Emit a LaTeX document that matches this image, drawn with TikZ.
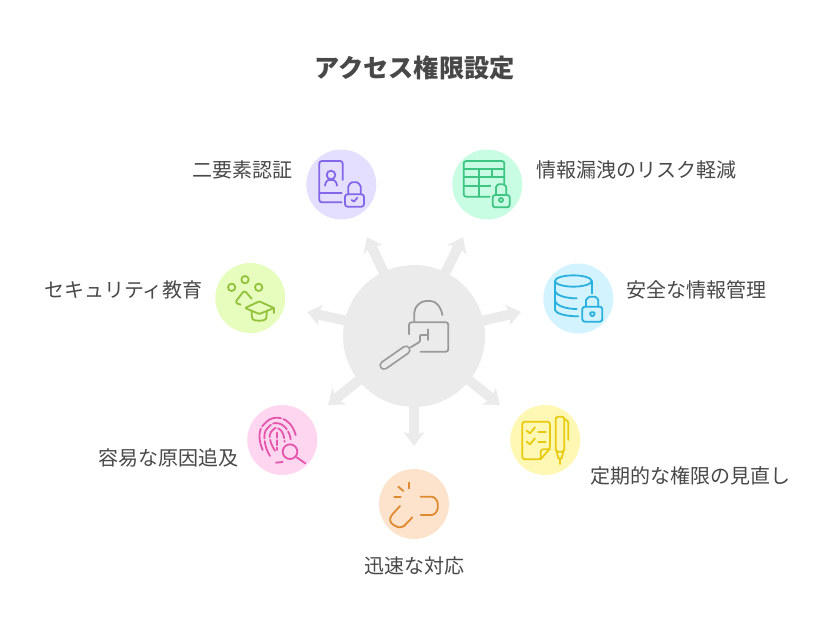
\documentclass[tikz,border=0pt]{standalone}
\usepackage{fontspec}
\setmainfont{Noto Sans CJK JP}
\usetikzlibrary{arrows.meta}
\definecolor{hubfill}{HTML}{EBEBEB}
\definecolor{hubline}{HTML}{9A9A9A}
\definecolor{txt}{HTML}{484848}
\definecolor{pfill}{HTML}{E5DFFF}\definecolor{pline}{HTML}{8467E8}
\definecolor{gfill}{HTML}{C8FCE3}\definecolor{gline}{HTML}{3EC483}
\definecolor{bfill}{HTML}{D2F3FF}\definecolor{bline}{HTML}{2AB0DD}
\definecolor{yfill}{HTML}{FEF8B4}\definecolor{yline}{HTML}{E8CB10}
\definecolor{ofill}{HTML}{FDE2CC}\definecolor{oline}{HTML}{E08A30}
\definecolor{kfill}{HTML}{FFD6F0}\definecolor{kline}{HTML}{E455AC}
\definecolor{lfill}{HTML}{E6FDBE}\definecolor{lline}{HTML}{93C23A}
\tikzset{
  hub/.style={circle,fill=hubfill,minimum size=142pt,inner sep=0pt},
  badge/.style={circle,minimum size=70pt,inner sep=0pt},
  spoke/.style={draw=hubfill,line width=10pt,-{Stealth[length=14pt,width=21pt,inset=3.5pt,fill=hubfill]}},
  lbl/.style={text=txt,font=\fontsize{20}{24}\selectfont,inner sep=0pt},
  ttl/.style={text=txt,font=\fontsize{25.2}{30}\selectfont\bfseries,inner sep=0pt},
  ic/.style={line width=1.8pt,line cap=round,line join=round,rounded corners=2.5pt},
  sm/.style={smooth,tension=0.7}
}
\begin{document}
\begin{tikzpicture}[x=1pt,y=-1pt]
\useasboundingbox (0,0) rectangle (816,624);
\node[ttl] (title) at (414.5,67.5) {アクセス権限設定};
% hub end points
\coordinate (c) at (414,336);
\coordinate (t1) at (367,237);
\coordinate (t2) at (463,237);
\coordinate (t3) at (521,312);
\coordinate (t4) at (500,405);
\coordinate (t5) at (414,446);
\coordinate (t6) at (328,405);
\coordinate (t7) at (307,312);
\foreach \t in {t1,t2,t3,t4,t5,t6,t7} \draw[spoke] (c) -- (\t);
\node[hub] (h) at (c) {};
% badges
\node[badge,fill=pfill] (n1) at (341.3,184.5) {};
\node[badge,fill=gfill] (n2) at (487.3,184.5) {};
\node[badge,fill=bfill] (n3) at (578.3,298.5) {};
\node[badge,fill=yfill] (n4) at (545.3,440) {};
\node[badge,fill=ofill] (n5) at (414,504) {};
\node[badge,fill=kfill] (n6) at (282.3,440) {};
\node[badge,fill=lfill] (n7) at (250.3,298) {};
% labels
\node[lbl,anchor=east] (l1) at (293,170) {二要素認証};
\node[lbl,anchor=west] (l2) at (536,170) {情報漏洩のリスク軽減};
\node[lbl,anchor=west] (l3) at (626,290) {安全な情報管理};
\node[lbl,anchor=west] (l4) at (590,476) {定期的な権限の見直し};
\node[lbl] (l5) at (414,566) {迅速な対応};
\node[lbl,anchor=east] (l6) at (239,458) {容易な原因追及};
\node[lbl,anchor=east] (l7) at (203,290) {セキュリティ教育};
% hub icon
\begin{scope}[shift={(370,290)},scale=1/3,hubline,ic]
\draw (133,95) -- (133,75) .. controls (133,50) and (152,33) .. (175,33) .. controls (197,33) and (213,50) .. (217,75);
\draw (117,133) -- (117,97) -- (235,97) -- (235,185) -- (152,185);
\draw[rounded corners=0pt] (175,118) -- (175,150);
\draw[rounded corners=1pt] (175,135) -- (150,135) -- (150,155) -- (122,172);
\draw[line width=9.4pt,line cap=round] (108,180) -- (42,226);
\draw[hubfill,line width=5.8pt,line cap=round] (108,180) -- (42,226);
\end{scope}
% purple icon
\begin{scope}[shift={(300,145)},scale=1/3,pline,ic]
\draw (128,105) -- (128,48) -- (58,48) -- (58,172) -- (125,172);
\draw (58,145) -- (125,145);
\draw (93,90) circle[radius=13];
\draw (75,122) .. controls (76,110) and (84,105) .. (93,105) .. controls (102,105) and (110,110) .. (111,122);
\draw (135,148) rectangle (192,185);
\draw (145,148) -- (145,132) .. controls (145,120) and (153,112) .. (163,112) .. controls (173,112) and (182,120) .. (182,132) -- (182,148);
\draw[rounded corners=0.5pt] (155,165) -- (162,170) -- (172,158);
\end{scope}
% green icon
\begin{scope}[shift={(447,145)},scale=1/3,gline,ic]
\draw (128,155) -- (50,155) -- (50,48) -- (172,48) -- (172,115);
\draw (50,72) -- (172,72);
\draw (50,97) -- (172,97);
\draw (50,122) -- (130,122);
\draw (97,72) -- (97,155);
\draw (135,72) -- (135,97);
\draw (137,150) rectangle (188,187);
\draw (147,150) -- (147,134) .. controls (147,124) and (153,118) .. (162,118) .. controls (171,118) and (178,124) .. (178,134) -- (178,150);
\draw (162,165) circle[radius=6];
\end{scope}
% blue icon
\begin{scope}[shift={(535,255)},scale=1/3,bline,ic]
\draw (115,78) ellipse[x radius=55,y radius=17];
\draw (60,78) -- (60,165);
\draw (170,78) -- (170,115);
\draw (60,108) .. controls (62,120) and (90,130) .. (125,130);
\draw (60,138) .. controls (62,150) and (90,162) .. (125,162);
\draw (60,165) .. controls (62,175) and (90,184) .. (130,184);
\draw (142,155) rectangle (202,200);
\draw (153,155) -- (153,143) .. controls (153,132) and (162,125) .. (172,125) .. controls (182,125) and (190,132) .. (190,143) -- (190,155);
\draw[rounded corners=1pt] (165,172) -- (179,172) -- (179,178) -- (172,185) -- (165,178) -- cycle;
\end{scope}
% yellow icon
\begin{scope}[shift={(500,400)},scale=1/3,yline,ic]
\draw (67,65) -- (150,65) -- (150,145) -- (122,178) -- (67,178) -- cycle;
\draw (150,148) -- (122,148) -- (122,178);
\draw[rounded corners=0pt] (80,92) -- (90,100) -- (105,82);
\draw[rounded corners=0pt] (80,125) -- (90,133) -- (105,115);
\draw (115,95) -- (137,95);
\draw (115,127) -- (137,127);
\draw (167,50) rectangle (193,155);
\draw[rounded corners=0pt] (170,155) -- (175,175) -- (185,175) -- (190,155);
\draw (180,175) -- (180,192);
\draw (193,58) -- (205,62) -- (205,120);
\end{scope}
% orange icon
\begin{scope}[shift={(370,460)},scale=1/3,oline,ic]
\draw (152,110) -- (178,110) .. controls (193,110) and (203,122) .. (203,137) .. controls (203,153) and (193,165) .. (178,165) -- (152,165);
\draw (90,138) -- (70,160) .. controls (56,176) and (62,190) .. (75,197) .. controls (88,204) and (100,200) .. (108,192) -- (127,172);
\draw (117,68) -- (117,85);
\draw (85,80) -- (100,93);
\draw (73,110) -- (92,110);
\end{scope}
% pink icon
\begin{scope}[shift={(240,400)},scale=1/3,kline,ic]
\draw[dash pattern=on 22pt off 2.5pt] (68,150) .. controls (55,120) and (55,90) .. (75,70) .. controls (100,45) and (150,45) .. (167,105);
\draw[dash pattern=on 16pt off 2.5pt] (90,168) .. controls (72,140) and (68,100) .. (85,82) .. controls (105,60) and (145,70) .. (152,118);
\draw[dash pattern=on 12pt off 2.5pt] (105,152) .. controls (90,130) and (85,105) .. (98,90) .. controls (112,78) and (132,90) .. (134,125);
\draw[dash pattern=on 5pt off 2.5pt] (112,98) -- (112,150);
\draw (108,188) -- (128,186);
\draw (150,155) circle[radius=22];
\draw (170,172) -- (196,190);
\end{scope}
% lime icon
\begin{scope}[shift={(210,258)},scale=1/3,lline,ic]
\draw (65,88) circle[radius=11];
\draw (105,65) circle[radius=11];
\draw (146,88) circle[radius=11];
\draw (92,140) -- (75,134) -- (103,97) -- (125,122);
\draw[rounded corners=1pt] (105,150) -- (148,130) -- (192,150) -- (148,168) -- cycle;
\draw (125,158) -- (125,176) .. controls (130,190) and (165,190) .. (170,176) -- (170,158);
\draw (192,150) -- (192,165);
\end{scope}
\end{tikzpicture}
\end{document}
